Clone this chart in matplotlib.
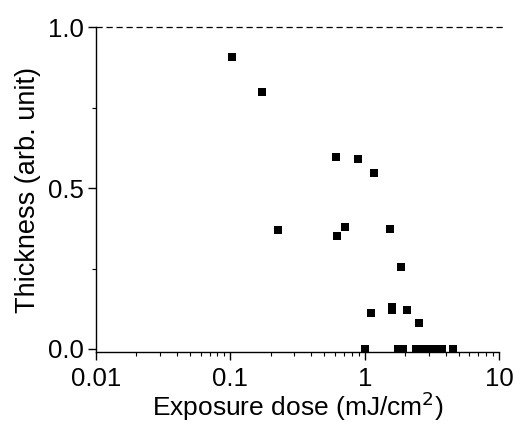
import numpy as np
import matplotlib
matplotlib.use("Agg")
import matplotlib.pyplot as plt
from matplotlib.ticker import LogLocator, FixedLocator, FixedFormatter

plt.rcParams["font.family"] = ["Liberation Sans", "DejaVu Sans"]

# exposure dose (mJ/cm^2) and normalised thickness
dose = [0.103, 0.172, 0.612, 0.893, 1.18,
        0.228, 0.627, 0.718, 1.55, 1.86,
        1.12, 1.61, 1.61, 2.07, 2.53,
        1.0, 1.77, 1.93, 2.39, 2.63, 2.87, 3.12, 3.40, 3.77, 4.57]
thickness = [0.907, 0.798, 0.598, 0.590, 0.547,
             0.370, 0.351, 0.379, 0.373, 0.256,
             0.112, 0.131, 0.122, 0.120, 0.082,
             0.0, 0.0, 0.0, 0.0, 0.0, 0.0, 0.0, 0.0, 0.0, 0.0]

x_ticks = [0.01, 0.1, 1, 10]
x_ticklabels = ["0.01", "0.1", "1", "10"]
y_ticks = [0.0, 0.5, 1.0]
y_ticklabels = ["0.0", "0.5", "1.0"]

fig = plt.figure(figsize=(5.15, 4.25), dpi=100)
ax = fig.add_axes([0.1864, 0.1718, 0.7826, 0.7635])

ax.scatter(dose, thickness, marker="s", s=26, color="black", linewidths=0,
           clip_on=False, zorder=3)

ax.set_xscale("log")
ax.set_xlim(0.01, 10)
ax.set_ylim(-0.0095, 1.0)

ax.xaxis.set_major_locator(FixedLocator(x_ticks))
ax.xaxis.set_major_formatter(FixedFormatter(x_ticklabels))
ax.xaxis.set_minor_locator(LogLocator(base=10, subs=np.arange(2, 10)))
ax.yaxis.set_major_locator(FixedLocator(y_ticks))
ax.yaxis.set_minor_locator(FixedLocator([0.25, 0.75]))
ax.set_yticklabels(y_ticklabels)

ax.spines["top"].set_visible(False)
ax.spines["right"].set_visible(False)
for side in ["left", "bottom"]:
    ax.spines[side].set_linewidth(1.0)

ax.axhline(1.0, color="black", linestyle=(0, (5, 3)), linewidth=0.9,
           xmax=1.01, clip_on=False)

ax.tick_params(axis="both", which="major", direction="out", length=6,
               width=1.0, labelsize=18.5)
ax.tick_params(axis="x", which="major", pad=4.5)
ax.tick_params(axis="y", which="major", pad=3)
ax.tick_params(axis="both", which="minor", direction="out", length=3,
               width=0.8)

ax.set_xlabel("Exposure dose (mJ/cm$^2$)", fontsize=19, labelpad=-1)
ax.set_ylabel("Thickness (arb. unit)", fontsize=19.5, labelpad=5)

fig.savefig("out.png", dpi=100)
